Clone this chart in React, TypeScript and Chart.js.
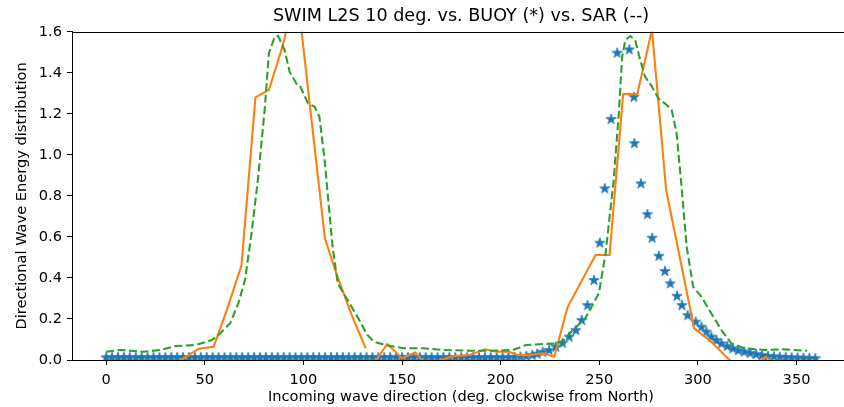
import React, { useEffect, useRef } from "react";
import { Chart, registerables } from "chart.js";

Chart.register(...registerables);

const TITLE = "SWIM L2S 10 deg. vs. BUOY (*) vs. SAR (--)";
const X_LABEL = "Incoming wave direction (deg. clockwise from North)";
const Y_LABEL = "Directional Wave Energy distribution";

const xTickValues = [0, 50, 100, 150, 200, 250, 300, 350];
const yTickValues = [0, 0.2, 0.4, 0.6, 0.8, 1.0, 1.2, 1.4, 1.6];

// BUOY (stars)
const buoyDir = [
  0, 3, 6, 9, 12, 15, 18, 21, 24, 27, 30, 33, 36, 39, 42, 45, 48, 51, 54, 57,
  60, 63, 66, 69, 72, 75, 78, 81, 84, 87, 90, 93, 96, 99, 102, 105, 108, 111, 114, 117,
  120, 123, 126, 129, 132, 135, 138, 141, 144, 147, 150, 153, 156, 159, 162, 165, 168, 171, 174, 177,
  180, 183, 186, 189, 192, 195, 198, 201, 204, 207, 210, 213, 216, 218.5,
  221.3, 224.6, 228.0, 231.4, 234.7, 238.1, 241.1, 244.0, 247.3, 250.3, 252.8, 256.0, 259.1,
  265.2, 267.6, 267.8, 271.1, 274.4, 276.8, 280.2, 283.3, 286.0, 289.4, 291.9, 294.8,
  298.9, 301.8, 304.3, 306.8, 309.4, 311.9, 314.9, 317.7, 320.5, 323.5, 326.5, 329.5,
  332.5, 335.5, 338.5, 341.5, 344.5, 347.5, 350.5, 353.5, 356.5, 359.5,
];
const buoyVal = [
  0.014, 0.014, 0.014, 0.014, 0.014, 0.014, 0.014, 0.014, 0.014, 0.014, 0.014, 0.014, 0.014, 0.014, 0.014, 0.014, 0.014, 0.014, 0.014, 0.014,
  0.014, 0.014, 0.014, 0.014, 0.014, 0.014, 0.014, 0.014, 0.014, 0.014, 0.014, 0.014, 0.014, 0.014, 0.014, 0.014, 0.014, 0.014, 0.014, 0.014,
  0.014, 0.014, 0.014, 0.014, 0.014, 0.014, 0.014, 0.014, 0.014, 0.014, 0.014, 0.014, 0.014, 0.014, 0.014, 0.014, 0.014, 0.014, 0.014, 0.014,
  0.014, 0.014, 0.014, 0.014, 0.014, 0.014, 0.014, 0.014, 0.014, 0.015, 0.017, 0.020, 0.025, 0.031,
  0.040, 0.049, 0.065, 0.084, 0.114, 0.146, 0.195, 0.268, 0.390, 0.572, 0.837, 1.175, 1.498,
  1.514, 1.283, 1.057, 0.861, 0.711, 0.596, 0.508, 0.434, 0.374, 0.313, 0.268, 0.219,
  0.187, 0.162, 0.138, 0.114, 0.097, 0.081, 0.068, 0.057, 0.048, 0.041, 0.035, 0.029,
  0.024, 0.020, 0.018, 0.016, 0.014, 0.013, 0.012, 0.011, 0.010, 0.009,
];

// SWIM L2S (solid orange)
const swimDir = [
  37, 47, 54.5, 61.2, 68.6, 75.7, 82.5, 89.5, 96.5, 110.9, 117, 124.5, 131.6,
  134, 135.5, 142.5, 150, 156.7, 161, 164, 168, 176, 184.4, 192, 197.8, 203.7, 208.8,
  214.6, 221.3, 227.2, 233.9, 248.1, 255.2, 262.1, 269.3, 276.7, 283.9, 298.1, 306.8,
  316, 318, 325, 331, 334.5, 338,
];
const swimVal = [
  -0.005, 0.055, 0.064, 0.244, 0.46, 1.28, 1.316, 1.53, 1.82, 0.593, 0.414, 0.219, 0.057,
  null, -0.02, 0.078, 0.008, 0.036, -0.01, null, -0.005, 0.019, 0.024, 0.052, 0.041, 0.041, 0.024,
  0.024, 0.033, 0.016, 0.257, 0.512, 0.512, 1.296, 1.296, 1.61, 0.828, 0.154, 0.089,
  0.0, -0.02, null, -0.01, 0.015, -0.01,
];

// SAR (dashed green)
const sarDir = [
  0, 7.5, 18.4, 27.7, 35.2, 45.3, 53.6, 57, 62.9, 67, 70.4, 73.7, 77.1, 80.5, 82.5, 85.5, 87.2,
  90.5, 93, 96.4, 98.1, 102.3, 105.6, 108.1, 110.7, 112.3, 114.8, 117.4, 122.4, 127.4, 132.4,
  135.8, 141.7, 150.8, 161, 171, 184.4, 196.2, 206.2, 212.9, 221.3, 228, 232, 236, 243,
  249.8, 253.2, 257.3, 259.9, 261.6, 263.2, 265.7, 268.2, 270.3, 273.2, 276.7, 280, 284.2,
  286.7, 289.2, 291.7, 294.3, 297.6, 301.8, 306.8, 311.9, 316.9, 323.6, 333.6, 343.7, 355.4,
];
const sarVal = [
  0.040, 0.049, 0.040, 0.049, 0.068, 0.073, 0.097, 0.122, 0.179, 0.276, 0.39, 0.617, 0.893, 1.234, 1.495, 1.576, 1.579,
  1.51, 1.405, 1.348, 1.34, 1.251, 1.235, 1.186, 0.983, 0.812, 0.552, 0.374, 0.292, 0.211, 0.122,
  0.089, 0.073, 0.057, 0.057, 0.049, 0.045, 0.045, 0.049, 0.073, 0.078, 0.08, 0.095, 0.14, 0.205,
  0.325, 0.52, 0.877, 1.202, 1.478, 1.559, 1.579, 1.559, 1.478, 1.381, 1.332, 1.275, 1.243,
  1.218, 1.105, 0.845, 0.552, 0.357, 0.308, 0.227, 0.146, 0.081, 0.057, 0.049, 0.052, 0.045,
];

const FONT = "'DejaVu Sans', sans-serif";
const TICK_SIZE = 14.6;
const TITLE_SIZE = 17.6;

function makeStar(): HTMLCanvasElement {
  const c = document.createElement("canvas");
  const s = 14;
  c.width = s;
  c.height = s;
  const ctx = c.getContext("2d")!;
  const R = 5.4;
  const r = R * 0.382;
  ctx.beginPath();
  for (let i = 0; i < 10; i++) {
    const ang = -Math.PI / 2 + (i * Math.PI) / 5;
    const rad = i % 2 === 0 ? R : r;
    const px = s / 2 + rad * Math.cos(ang);
    const py = s / 2 + 0.4 + rad * Math.sin(ang);
    if (i === 0) ctx.moveTo(px, py);
    else ctx.lineTo(px, py);
  }
  ctx.closePath();
  ctx.fillStyle = "#1f77b4";
  ctx.fill();
  ctx.strokeStyle = "#1f77b4";
  ctx.lineWidth = 0.8;
  ctx.stroke();
  return c;
}

const topSpine = {
  id: "topSpine",
  afterDraw(chart: any) {
    const { ctx, chartArea } = chart;
    ctx.save();
    ctx.strokeStyle = "#000";
    ctx.lineWidth = 1;
    ctx.beginPath();
    const y = Math.round(chartArea.top) + 0.5;
    ctx.moveTo(chartArea.left, y);
    ctx.lineTo(chartArea.right, y);
    ctx.stroke();
    ctx.restore();
  },
};

export default function App() {
  const ref = useRef<HTMLCanvasElement | null>(null);

  useEffect(() => {
    if (!ref.current) return;
    const star = makeStar();
    const pts = (xs: number[], ys: (number | null)[]) => xs.map((x, i) => ({ x, y: ys[i] }));
    const chart = new Chart(ref.current, {
      type: "line",
      data: {
        datasets: [
          {
            label: "BUOY",
            data: pts(buoyDir, buoyVal) as any,
            showLine: false,
            pointStyle: star as any,
            pointRadius: 5,
            borderColor: "#1f77b4",
            backgroundColor: "#1f77b4",
            order: 3,
          },
          {
            label: "SWIM",
            data: pts(swimDir, swimVal) as any,
            borderColor: "#ff7f0e",
            borderWidth: 2.1,
            pointRadius: 0,
            spanGaps: false,
            tension: 0,
            order: 2,
          },
          {
            label: "SAR",
            data: pts(sarDir, sarVal) as any,
            borderColor: "#2ca02c",
            borderWidth: 2.1,
            borderDash: [8, 3.5],
            pointRadius: 0,
            tension: 0,
            order: 1,
          },
        ],
      },
      options: {
        animation: false,
        responsive: false,
        devicePixelRatio: 1,
        layout: { padding: 0 },
        plugins: {
          legend: { display: false },
          tooltip: { enabled: false },
          title: {
            display: true,
            fullSize: false,
            text: TITLE,
            color: "#000",
            font: { family: FONT, size: TITLE_SIZE, weight: "normal" },
            padding: { top: 5.5, bottom: 5.1 },
          },
        },
        scales: {
          x: {
            type: "linear",
            min: -17.3,
            max: 377.1,
            afterBuildTicks: (axis: any) => {
              axis.ticks = xTickValues.map((v) => ({ value: v }));
            },
            afterFit: (s: any) => {
              s.height = 47;
            },
            ticks: {
              color: "#000",
              font: { family: FONT, size: TICK_SIZE },
              padding: 6,
              maxRotation: 0,
              callback: (v: any) => String(v),
            },
            grid: {
              drawOnChartArea: false,
              drawTicks: true,
              tickLength: 5,
              tickColor: "#000",
              tickWidth: 1,
            },
            border: { color: "#000", width: 1 },
            title: {
              display: true,
              text: X_LABEL,
              color: "#000",
              font: { family: FONT, size: TICK_SIZE },
              padding: { top: 0, bottom: 1.2 },
            },
          },
          y: {
            type: "linear",
            min: 0,
            max: 1.6,
            afterBuildTicks: (axis: any) => {
              axis.ticks = yTickValues.map((v) => ({ value: v }));
            },
            afterFit: (s: any) => {
              s.width = 72;
            },
            ticks: {
              color: "#000",
              font: { family: FONT, size: TICK_SIZE },
              padding: 5,
              callback: (v: any) => Number(v).toFixed(1),
            },
            grid: {
              drawOnChartArea: false,
              drawTicks: true,
              tickLength: 5,
              tickColor: "#000",
              tickWidth: 1,
            },
            border: { color: "#000", width: 1 },
            title: {
              display: true,
              text: Y_LABEL,
              color: "#000",
              font: { family: FONT, size: TICK_SIZE },
              padding: { top: 13.7, bottom: 0 },
            },
          },
        },
      },
      plugins: [topSpine],
    });
    return () => chart.destroy();
  }, []);

  return (
    <div
      style={{
        position: "absolute",
        left: 0,
        top: 0,
        width: 844,
        height: 407,
        overflow: "hidden",
        background: "#fff",
      }}
    >
      <canvas ref={ref} width={856} height={407} style={{ width: 856, height: 407, display: "block" }} />
    </div>
  );
}
